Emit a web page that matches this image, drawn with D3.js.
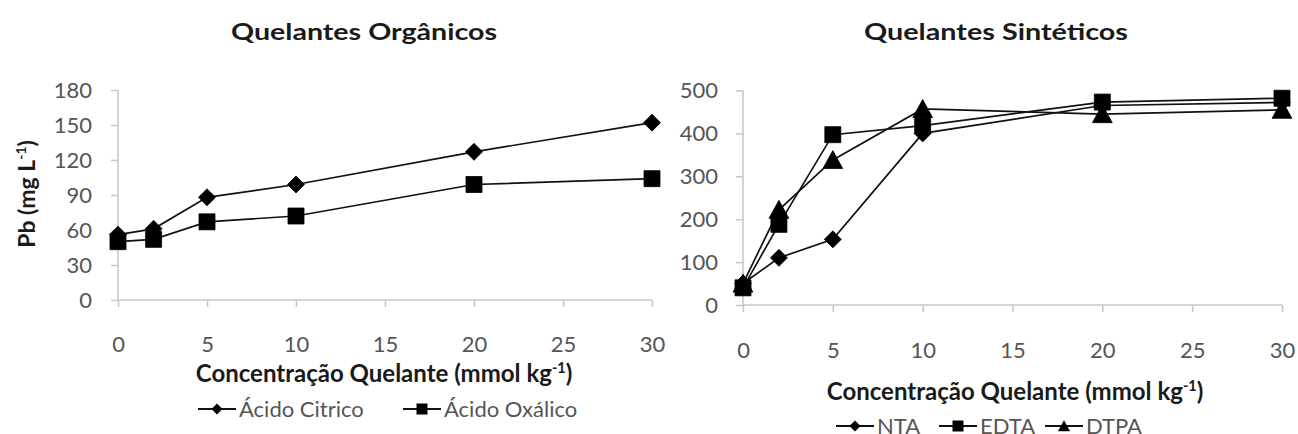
<!DOCTYPE html>
<html>
<head>
<meta charset="utf-8">
<script src="https://cdn.jsdelivr.net/npm/d3@7"></script>
<style>
  html, body { margin: 0; padding: 0; background: #fff; }
  svg { display: block; font-family: Lato, "Open Sans", sans-serif; }
</style>
</head>
<body>
<svg id="chart" width="1298" height="434"></svg>
<script>
// Concentration levels (mmol kg-1) shared by both panels
const conc = [0, 2, 5, 10, 20, 30];
const xTicks = [0, 5, 10, 15, 20, 25, 30];

// Organic chelators: Pb in solution (mg L-1)
const citrico = [56, 61, 88, 99, 127, 152];
const oxalico = [50, 52, 67, 72, 99, 104];
const yTicksOrg = [0, 30, 60, 90, 120, 150, 180];

// Synthetic chelators: Pb in solution (mg L-1)
const nta  = [50, 110, 153, 400, 465, 472];
const edta = [40, 188, 397, 418, 473, 482];
const dtpa = [50, 222, 338, 457, 445, 455];
const yTicksSin = [0, 100, 200, 300, 400, 500];

const svg = d3.select("#chart");
const INK = "#111";
const AXIS = "#c8c8c8";
const TICKTXT = "#555";

// Marker shapes, drawn as custom d3 symbol types (size = half-extent)
const diamond = { draw(c, r) { c.moveTo(0, -r); c.lineTo(r, 0); c.lineTo(0, r); c.lineTo(-r, 0); c.closePath(); } };
const square  = { draw(c, r) { c.rect(-r, -r, 2 * r, 2 * r); } };
const triangle = { draw(c, r) { c.moveTo(0, -r * 1.05); c.lineTo(r * 1.1, r * 0.95); c.lineTo(-r * 1.1, r * 0.95); c.closePath(); } };

function supText(sel, main, sup, tail, size) {
  sel.append("tspan").text(main);
  sel.append("tspan").attr("font-size", size * 0.6).attr("dy", -size * 0.38).text(sup);
  sel.append("tspan").attr("dy", size * 0.38).text(tail);
}

function panel(opt) {
  const x = d3.scaleLinear().domain([0, 30]).range([opt.x0, opt.x1]);
  const y = d3.scaleLinear().domain([0, opt.yMax]).range([opt.y0, opt.y1]);
  const g = svg.append("g");

  // Axes
  const ya = g.append("g").attr("transform", `translate(${opt.x0},0)`)
    .call(d3.axisLeft(y).tickValues(opt.yTicks).tickSize(7).tickPadding(opt.yPad));
  const xa = g.append("g").attr("transform", `translate(0,${opt.y0})`)
    .call(d3.axisBottom(x).tickValues(xTicks).tickSize(7).tickPadding(opt.xPad));
  [ya, xa].forEach(a => {
    a.select(".domain").attr("stroke", AXIS).attr("stroke-width", 1.6);
    a.selectAll(".tick line").attr("stroke", AXIS).attr("stroke-width", 1.6);
    a.selectAll(".tick text").attr("fill", TICKTXT).attr("font-size", 22)
      .attr("font-family", "Lato, sans-serif");
  });
  ya.select(".domain").attr("d", `M0,${opt.y0}V${opt.y1}`);
  xa.select(".domain").attr("d", `M${opt.x0},0H${opt.x1}`);

  // Series lines, then markers on top
  const line = d3.line().x((d, i) => x(conc[i])).y(d => y(d));
  opt.series.forEach(s => {
    g.append("path").datum(s.values).attr("d", line)
      .attr("fill", "none").attr("stroke", INK).attr("stroke-width", 1.7);
  });
  opt.series.forEach(s => {
    g.selectAll(null).data(s.values).enter().append("path")
      .attr("transform", (d, i) => `translate(${x(conc[i])},${y(d)})`)
      .attr("d", d3.symbol().type(s.shape).size(s.r))
      .attr("fill", "#000").attr("stroke", "#000").attr("stroke-width", 0.8);
  });

  // Panel title
  g.append("text").attr("x", opt.titleX).attr("y", 40)
    .attr("text-anchor", "middle").attr("font-weight", "bold").attr("font-size", 22)
    .attr("fill", "#1a1a1a").attr("textLength", opt.titleW).attr("lengthAdjust", "spacingAndGlyphs")
    .text(opt.title);

  // X axis title
  const xt = g.append("text").attr("x", opt.xtX).attr("y", opt.xtY)
    .attr("text-anchor", "middle").attr("font-weight", "bold").attr("font-size", 24)
    .attr("fill", "#1a1a1a");
  supText(xt, "Concentração Quelante (mmol kg", "-1", ")", 24);

  // Legend
  const lg = g.append("g");
  opt.series.forEach(s => {
    const lx = s.lx;
    lg.append("line").attr("x1", lx - 19).attr("x2", lx + 19)
      .attr("y1", opt.legY).attr("y2", opt.legY).attr("stroke", INK).attr("stroke-width", 1.8);
    lg.append("path").attr("transform", `translate(${lx},${opt.legY})`)
      .attr("d", d3.symbol().type(s.shape).size(s.lr)).attr("fill", "#000");
    lg.append("text").attr("x", lx + 22).attr("y", opt.legY + 8)
      .attr("font-size", 22).attr("fill", TICKTXT).text(s.name);
  });
  return g;
}

panel({
  x0: 118, x1: 652, y0: 300, y1: 90, yMax: 180, yTicks: yTicksOrg, yPad: 19, xPad: 29,
  title: "Quelantes Orgânicos", titleX: 364, titleW: 266,
  xtX: 384, xtY: 382, legY: 409,
  series: [
    { name: "Ácido Citrico", values: citrico, shape: diamond, r: 8.5, lx: 217, lr: 5.5 },
    { name: "Ácido Oxálico", values: oxalico, shape: square, r: 8, lx: 422, lr: 5.5 }
  ]
});

panel({
  x0: 743, x1: 1282, y0: 305, y1: 90.5, yMax: 500, yTicks: yTicksSin, yPad: 18, xPad: 30,
  title: "Quelantes Sintéticos", titleX: 996, titleW: 264,
  xtX: 1015, xtY: 400, legY: 426,
  series: [
    { name: "NTA",  values: nta,  shape: diamond,  r: 8.5, lx: 855,  lr: 5.5 },
    { name: "EDTA", values: edta, shape: square,   r: 8,   lx: 958,  lr: 5.5 },
    { name: "DTPA", values: dtpa, shape: triangle, r: 9,   lx: 1064, lr: 5.5 }
  ]
});

// Y axis title for the left panel
const yl = svg.append("text")
  .attr("transform", "translate(35,194) rotate(-90)")
  .attr("text-anchor", "middle").attr("font-weight", "bold").attr("font-size", 23)
  .attr("fill", "#1a1a1a");
supText(yl, "Pb (mg L", "-1", ")", 23);
</script>
</body>
</html>
